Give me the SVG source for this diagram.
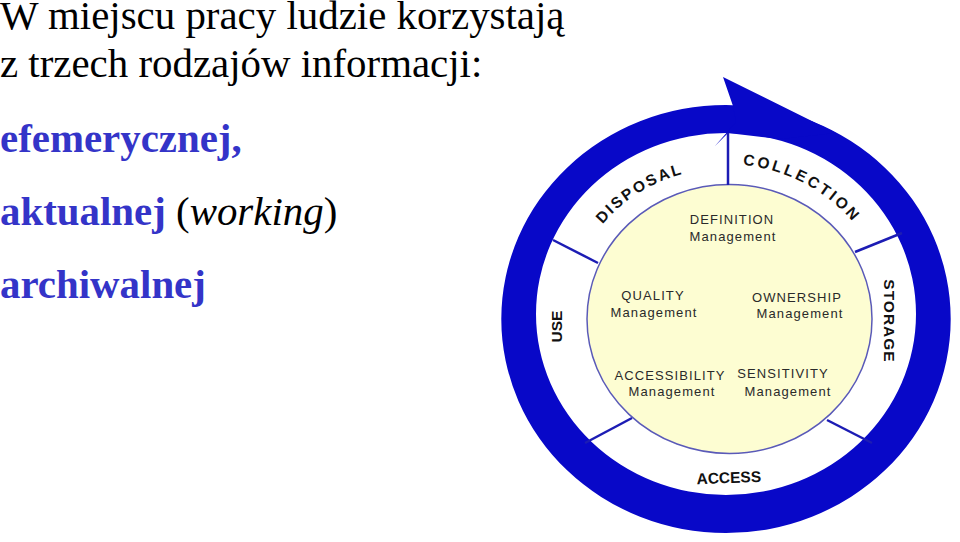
<svg xmlns="http://www.w3.org/2000/svg" width="960" height="542" viewBox="0 0 960 542">
<style>
.t{font-family:"Liberation Serif","Times New Roman",Times,serif;font-size:40px;fill:#000}
.b{font-weight:bold;fill:#3434c8}
.in{font-family:"Liberation Sans",Arial,sans-serif;font-size:13px;letter-spacing:1.1px;fill:#2a2a2a;text-anchor:middle}
.band{font-family:"Liberation Sans",Arial,sans-serif;font-weight:bold;font-size:15.5px;fill:#111;text-anchor:middle}
.div{stroke:#1c1cb4;stroke-width:2.5;fill:none}
</style>
<defs>
<path id="arcDisposal" d="M567.45 319 A158.55 151 0 0 1 785.4 179"/>
<path id="arcCollection" d="M653.4 180.3 A162.75 155 0 0 1 888.2 306.8"/>
</defs>
<rect width="960" height="542" fill="#fff"/>
<g id="text-block" transform="scale(1.022,1)">
<text class="t" x="0" y="29">W miejscu pracy ludzie korzystają</text>
<text class="t" x="0" y="77">z trzech rodzajów informacji:</text>
<text class="t b" x="0" y="152">efemerycznej,</text>
<text class="t" x="0" y="225"><tspan class="b">aktualnej</tspan> (<tspan font-style="italic">working</tspan>)</text>
<text class="t b" x="0" y="298">archiwalnej</text>
</g>
<g id="ring">
<path fill="#0808c8" fill-rule="evenodd" d="M501.3 319 A224.7 214 0 1 0 950.7 319 A224.7 214 0 1 0 501.3 319 Z M536 314 A190 181 0 1 1 916 314 A190 181 0 1 1 536 314 Z"/>
<polygon fill="#0808c8" points="723,77 836,133 780,139 728,133 715,146 736,122 733,106"/>
</g>
<g id="core">
<ellipse cx="729.5" cy="319" rx="142.5" ry="134.5" fill="#fdfdd2" stroke="#5a5ab8" stroke-width="1.5"/>
</g>
<g id="dividers">
<line class="div" x1="728" y1="133" x2="728" y2="185"/>
<line class="div" x1="855" y1="252" x2="902" y2="233"/>
<line class="div" x1="827" y1="420" x2="872" y2="443"/>
<line class="div" x1="632" y1="418" x2="585" y2="443"/>
<line class="div" x1="598" y1="263" x2="553" y2="240"/>
</g>
<g id="stage-disposal"><text class="band" letter-spacing="2.3"><textPath href="#arcDisposal" startOffset="50%">DISPOSAL</textPath></text></g>
<g id="stage-collection"><text class="band" letter-spacing="2.8"><textPath href="#arcCollection" startOffset="50%">COLLECTION</textPath></text></g>
<g id="stage-storage"><text class="band" font-size="16" letter-spacing="1" transform="translate(884,321) rotate(90)" x="0" y="0">STORAGE</text></g>
<g id="stage-access"><text class="band" font-size="16" transform="translate(729,483) rotate(-2)" x="0" y="0">ACCESS</text></g>
<g id="stage-use"><text class="band" font-size="16" transform="translate(562,326.5) rotate(-90)" x="0" y="0">USE</text></g>
<g id="mgmt-definition"><text class="in" x="732" y="224">DEFINITION</text><text class="in" x="733" y="241">Management</text></g>
<g id="mgmt-quality"><text class="in" x="653" y="300">QUALITY</text><text class="in" x="654" y="317">Management</text></g>
<g id="mgmt-ownership"><text class="in" x="797" y="302">OWNERSHIP</text><text class="in" x="800" y="318">Management</text></g>
<g id="mgmt-accessibility"><text class="in" x="670" y="380">ACCESSIBILITY</text><text class="in" x="672" y="396">Management</text></g>
<g id="mgmt-sensitivity"><text class="in" x="783" y="378">SENSITIVITY</text><text class="in" x="788" y="396">Management</text></g>
</svg>
